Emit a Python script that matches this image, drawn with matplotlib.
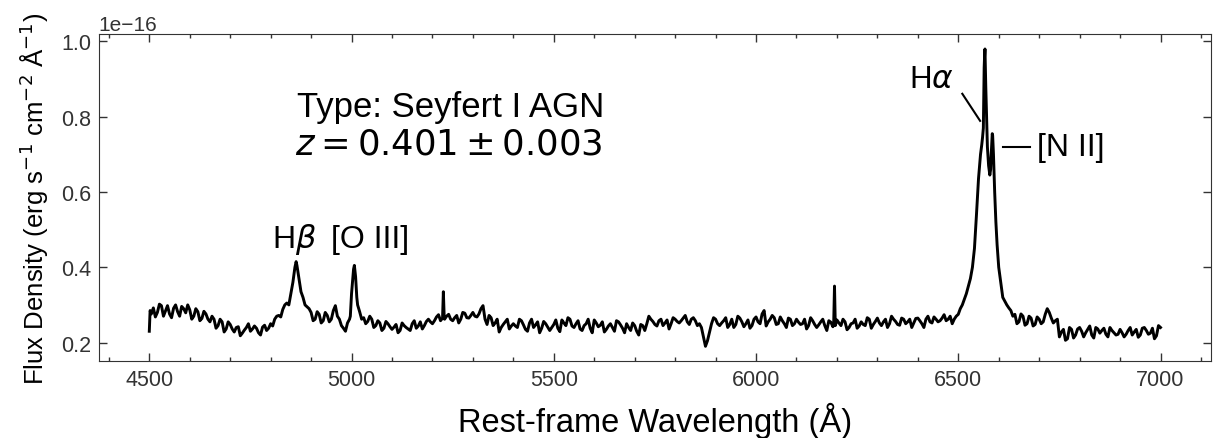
import matplotlib
matplotlib.use("Agg")
import matplotlib.pyplot as plt
from matplotlib.ticker import AutoMinorLocator
import numpy as np

# flux on a 10 A grid, 4500..7000 A (units of 1e-16 erg/s/cm2/A)
grid_start = 4500
flux_grid = [
    0.230, 0.292, 0.280, 0.298, 0.284, 0.276, 0.291, 0.282, 0.296, 0.279,  # 4500
    0.287, 0.270, 0.282, 0.264, 0.276, 0.255, 0.262, 0.245, 0.255, 0.236,  # 4600
    0.248, 0.228, 0.242, 0.225, 0.240, 0.230, 0.244, 0.226, 0.241, 0.232,  # 4700
    0.250, 0.262, 0.272, 0.288, 0.305, 0.330, 0.400, 0.370, 0.320, 0.295,  # 4800
    0.280, 0.262, 0.275, 0.258, 0.272, 0.262, 0.298, 0.262, 0.238, 0.252,  # 4900
    0.330, 0.375, 0.282, 0.266, 0.256, 0.262, 0.245, 0.252, 0.238, 0.250,  # 5000
    0.235, 0.248, 0.232, 0.245, 0.236, 0.250, 0.238, 0.255, 0.245, 0.262,  # 5100
    0.250, 0.268, 0.258, 0.262, 0.275, 0.258, 0.272, 0.262, 0.278, 0.265,  # 5200
    0.280, 0.268, 0.290, 0.262, 0.272, 0.245, 0.262, 0.240, 0.255, 0.236,  # 5300
    0.250, 0.240, 0.258, 0.235, 0.252, 0.240, 0.255, 0.238, 0.250, 0.232,  # 5400
    0.248, 0.238, 0.260, 0.245, 0.262, 0.240, 0.258, 0.232, 0.250, 0.238,  # 5500
    0.260, 0.242, 0.255, 0.235, 0.250, 0.230, 0.255, 0.238, 0.250, 0.232,  # 5600
    0.245, 0.220, 0.245, 0.250, 0.262, 0.248, 0.258, 0.245, 0.260, 0.250,  # 5700
    0.262, 0.252, 0.265, 0.255, 0.262, 0.258, 0.250, 0.215, 0.205, 0.250,  # 5800
    0.262, 0.245, 0.258, 0.240, 0.262, 0.248, 0.265, 0.242, 0.260, 0.245,  # 5900
    0.268, 0.250, 0.285, 0.255, 0.272, 0.248, 0.268, 0.250, 0.265, 0.245,  # 6000
    0.262, 0.248, 0.262, 0.245, 0.258, 0.240, 0.255, 0.245, 0.258, 0.242,  # 6100
    0.260, 0.245, 0.255, 0.240, 0.252, 0.238, 0.255, 0.245, 0.262, 0.248,  # 6200
    0.265, 0.245, 0.262, 0.250, 0.262, 0.248, 0.265, 0.250, 0.262, 0.252,  # 6300
    0.265, 0.250, 0.262, 0.255, 0.268, 0.255, 0.265, 0.258, 0.270, 0.262,  # 6400
    0.275, 0.300, 0.330, 0.370, 0.450, 0.635, 0.745, 0.800, 0.660, 0.600,  # 6500
    0.400, 0.320, 0.300, 0.285, 0.275, 0.255, 0.270, 0.250, 0.265, 0.248,  # 6600
    0.262, 0.255, 0.290, 0.265, 0.258, 0.215, 0.235, 0.210, 0.235, 0.220,  # 6700
    0.240, 0.215, 0.235, 0.220, 0.240, 0.225, 0.238, 0.215, 0.232, 0.220,  # 6800
    0.235, 0.215, 0.232, 0.220, 0.235, 0.220, 0.240, 0.222, 0.238, 0.218,  # 6900
    0.240,                                                                 # 7000
]

# flux half-way between the grid points, 4505..6995 A
flux_mid = [
    0.276, 0.268, 0.302, 0.270, 0.298, 0.266, 0.300, 0.270, 0.290, 0.300,  # 4505
    0.262, 0.290, 0.258, 0.283, 0.262, 0.270, 0.238, 0.262, 0.228, 0.255,  # 4605
    0.236, 0.240, 0.218, 0.233, 0.250, 0.236, 0.238, 0.220, 0.246, 0.238,  # 4705
    0.244, 0.270, 0.268, 0.300, 0.300, 0.360, 0.405, 0.335, 0.300, 0.290,  # 4805
    0.258, 0.282, 0.252, 0.280, 0.255, 0.285, 0.270, 0.245, 0.230, 0.262,  # 4905
    0.395, 0.300, 0.262, 0.250, 0.270, 0.240, 0.258, 0.232, 0.256, 0.242,  # 5005
    0.241, 0.226, 0.252, 0.240, 0.232, 0.258, 0.244, 0.236, 0.256, 0.255,  # 5105
    0.258, 0.274, 0.265, 0.270, 0.262, 0.266, 0.252, 0.280, 0.266, 0.272,  # 5205
    0.270, 0.276, 0.298, 0.248, 0.266, 0.252, 0.228, 0.248, 0.262, 0.244,  # 5305
    0.244, 0.262, 0.247, 0.230, 0.262, 0.247, 0.226, 0.256, 0.241, 0.240,  # 5405
    0.260, 0.229, 0.252, 0.266, 0.244, 0.250, 0.236, 0.245, 0.262, 0.226,  # 5505
    0.252, 0.246, 0.228, 0.244, 0.240, 0.258, 0.247, 0.226, 0.240, 0.252,  # 5605
    0.230, 0.248, 0.232, 0.270, 0.256, 0.244, 0.262, 0.252, 0.236, 0.266,  # 5705
    0.256, 0.258, 0.272, 0.248, 0.266, 0.245, 0.240, 0.190, 0.228, 0.266,  # 5805
    0.250, 0.252, 0.266, 0.248, 0.240, 0.270, 0.255, 0.250, 0.238, 0.262,  # 5905
    0.255, 0.276, 0.244, 0.262, 0.266, 0.250, 0.258, 0.240, 0.262, 0.250,  # 6005
    0.254, 0.250, 0.236, 0.266, 0.248, 0.247, 0.262, 0.232, 0.254, 0.300,  # 6105
    0.252, 0.262, 0.234, 0.250, 0.262, 0.244, 0.248, 0.266, 0.238, 0.256,  # 6205
    0.252, 0.255, 0.240, 0.270, 0.256, 0.246, 0.262, 0.255, 0.240, 0.264,  # 6305
    0.258, 0.240, 0.270, 0.252, 0.262, 0.258, 0.274, 0.262, 0.250, 0.270,  # 6405
    0.290, 0.315, 0.350, 0.400, 0.540, 0.700, 0.960, 0.670, 0.750, 0.480,  # 6505
    0.360, 0.310, 0.292, 0.270, 0.250, 0.276, 0.246, 0.270, 0.244, 0.268,  # 6605
    0.250, 0.275, 0.280, 0.252, 0.262, 0.228, 0.206, 0.240, 0.212, 0.236,  # 6705
    0.230, 0.226, 0.244, 0.212, 0.236, 0.232, 0.222, 0.240, 0.226, 0.222,  # 6805
    0.226, 0.222, 0.240, 0.228, 0.214, 0.238, 0.232, 0.225, 0.210, 0.245,  # 6905
]

# extra samples on the narrow peaks and spikes
wave_extra = [4502, 4863, 4997, 5007, 5013, 5227, 5229, 6192, 6194, 6196,
              6558, 6562, 6564, 6566, 6568, 6572, 6578, 6581, 6584, 6587,
              6593, 6596]
flux_extra = [0.285, 0.415, 0.270, 0.405, 0.320, 0.335, 0.270, 0.250, 0.350, 0.245,
              0.725, 0.770, 0.930, 0.980, 0.880, 0.720, 0.645, 0.690, 0.755, 0.700,
              0.520, 0.460]

wave_grid = grid_start + 10 * np.arange(len(flux_grid))
wave_mid = grid_start + 5 + 10 * np.arange(len(flux_mid))
wave = np.concatenate([wave_grid, wave_mid, wave_extra])
flux = np.concatenate([flux_grid, flux_mid, flux_extra])
order = np.argsort(wave)
wave = wave[order]
flux = flux[order] * 1e-16

plt.rcParams['font.family'] = ['Liberation Sans', 'DejaVu Sans']
plt.rcParams['mathtext.fontset'] = 'dejavusans'

fig = plt.figure(figsize=(12.19, 4.39), dpi=100)
ax = fig.add_axes([0.081, 0.175, 0.9125, 0.745])

ax.plot(wave, flux, color='black', lw=2.1)

ax.set_xlabel('Rest-frame Wavelength (Å)', fontsize=23.5, labelpad=9)
ax.set_ylabel('Flux Density (erg s$^{-1}$ cm$^{-2}$ Å$^{-1}$)', fontsize=18.5,
              labelpad=7)

ax.xaxis.set_minor_locator(AutoMinorLocator(5))
ax.tick_params(which='both', direction='in', top=True, right=True,
               labelsize=15.5, colors='#333333', pad=5.5)
ax.tick_params(which='major', length=6, width=1)
ax.tick_params(which='minor', length=3, width=1)
ax.yaxis.get_offset_text().set_fontsize(15)
for s in ax.spines.values():
    s.set_color('#333333')

# annotations
ax.text(4865, 0.803e-16, 'Type: Seyfert I AGN', fontsize=25)
ax.text(4860, 0.702e-16, r'$z = 0.401 \pm 0.003$', fontsize=25.5)
ax.text(4858, 0.455e-16, r'H$\beta$', fontsize=23, ha='center')
ax.text(5046, 0.455e-16, '[O III]', fontsize=23, ha='center')
ax.text(6433, 0.88e-16, r'H$\alpha$', fontsize=22.5, ha='center')
ax.plot([6510, 6554], [0.861e-16, 0.789e-16], color='black', lw=1.5)
ax.plot([6611, 6678], [0.72e-16, 0.72e-16], color='black', lw=1.5)
ax.text(6695, 0.72e-16, '[N II]', fontsize=23, va='center')

fig.savefig('out.png', dpi=100)
